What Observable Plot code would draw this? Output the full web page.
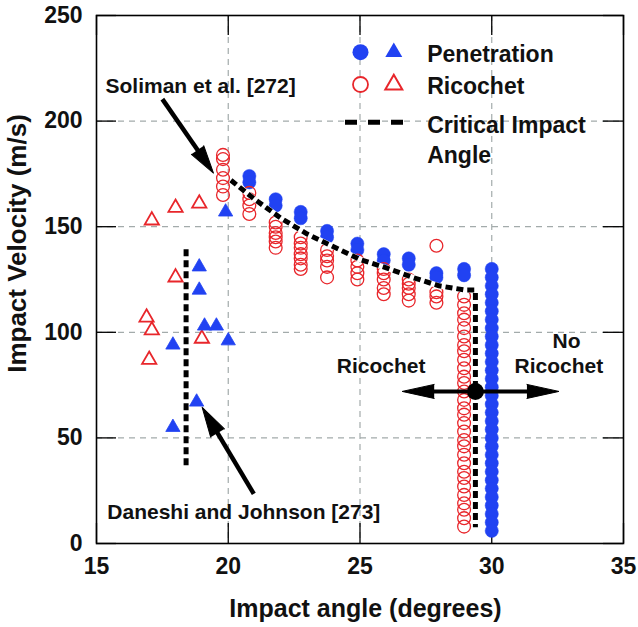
<!DOCTYPE html>
<html><head><meta charset="utf-8">
<script src="https://cdn.jsdelivr.net/npm/d3@7"></script>
<script src="https://cdn.jsdelivr.net/npm/@observablehq/plot@0.6"></script>
<style>body{margin:0;background:#fff} #chart svg{display:block}</style>
</head><body><div id="chart"></div>
<script>
// ---------------- data ----------------
const xTicks = [15, 20, 25, 30, 35];
const yTicks = [0, 50, 100, 150, 200, 250];
const xGrid = [20, 25, 30];
const yGrid = [50, 100, 150, 200];

// Soliman et al. [272] (circles): test angles and velocities per angle
const solimanAngles = [19.8, 20.8, 21.8, 22.75, 23.75, 24.9, 25.9, 26.85, 27.9, 28.95, 30.0];
const solimanPenetration = [
  [],
  [174, 171],
  [163, 160],
  [157, 154],
  [148, 145],
  [142, 139],
  [137, 134],
  [135, 132],
  [128, 126],
  [130, 127],
  [130, 126, 122, 118, 114, 110, 106, 102, 98, 94, 90, 86, 82, 78, 74, 70, 66, 62, 58, 54, 50, 46, 42, 38, 34, 30, 26, 22, 18, 14, 10, 6]
];
const solimanRicochet = [
  [184, 182, 177, 173, 169, 165],
  [166, 163, 160, 156],
  [152, 150, 147, 145, 143, 140],
  [145, 142, 140, 137, 135, 132, 130],
  [139, 136, 134, 131, 126],
  [134, 131, 128, 125],
  [130, 128, 125, 121, 118],
  [125, 123, 121, 118, 115],
  [141, 119, 117, 114],
  [117, 113, 109, 106, 102, 98, 94, 91, 87, 83, 79, 76, 72, 68, 64, 61, 57, 53, 49, 46, 42, 38, 34, 31, 27, 23, 19, 16, 12, 8],
  []
];

// Daneshi and Johnson [273] (triangles)
const daneshiPenAngle = [17.9, 17.9, 18.8, 18.9, 18.9, 19.1, 19.55, 19.9, 20.0];
const daneshiPenVel   = [94, 55, 67, 131, 120, 103, 103, 157, 96];
const daneshiRicAngle = [16.9, 17.0, 17.1, 17.1, 18.0, 18.0, 18.9, 19.0];
const daneshiRicVel   = [107, 87, 101, 153, 126, 159, 161, 97];

// Critical impact angle lines
const solimanCritAngle = [20.1, 21.0, 22.0, 23.0, 24.0, 25.0, 26.0, 27.0, 28.0, 29.0, 29.38, 29.38];
const solimanCritVel   = [172, 163, 154, 146.5, 140.5, 134.5, 130.5, 126, 122, 120, 120, 7.7];
const daneshiCritAngle = [18.4, 18.4];
const daneshiCritVel   = [37, 140];

// Annotations (data coordinates)
const arrowTail = [[17.5, 210.4], [20.97, 23.5]];
const arrowTip  = [[19.44, 175.4], [19.01, 64.5]];
const splitCenter = [29.38, 72];
const splitTips = [[26.6, 72], [32.55, 72]];
const startLabels = [
  {text: "Soliman et al. [272]", x: 15.34, y: 213.1},
  {text: "Daneshi and Johnson [273]", x: 15.41, y: 11.8}
];
const middleLabels = [
  {text: "Ricochet", x: 25.8, y: 80.5},
  {text: "No", x: 32.84, y: 92.8},
  {text: "Ricochet", x: 32.55, y: 80.5}
];
const legendItems = ["Penetration", "Ricochet", "Critical Impact\nAngle"];
const xTitle = "Impact angle (degrees)";
const yTitle = "Impact Velocity (m/s)";

// ---------------- layout ----------------
const W = 638, H = 627, ML = 96, MR = 15, MT = 15, MB = 84;
const innerW = W - ML - MR, innerH = H - MT - MB;
const BLUE = "#2142f2", RED = "#e8262b", GRID = "#a3abab";
const FONT = "Arial, 'Liberation Sans', Helvetica, sans-serif";
const sx = d3.scaleLinear([15, 35], [ML, W - MR]);
const sy = d3.scaleLinear([0, 250], [H - MB, MT]);

// build point tables
const penPts = [], ricPts = [];
solimanAngles.forEach((a, i) => {
  solimanPenetration[i].forEach(v => penPts.push({a, v}));
  solimanRicochet[i].forEach(v => ricPts.push({a, v}));
});
const dPen = daneshiPenAngle.map((a, i) => ({a, v: daneshiPenVel[i]}));
const dRic = daneshiRicAngle.map((a, i) => ({a, v: daneshiRicVel[i]}));
const solCrit = solimanCritAngle.map((a, i) => ({a, v: solimanCritVel[i]}));
const danCrit = daneshiCritAngle.map((a, i) => ({a, v: daneshiCritVel[i]}));

// arrows: shaft + filled head
function head(tail, tip, len) {
  const px1 = sx(tail[0]), py1 = sy(tail[1]), px2 = sx(tip[0]), py2 = sy(tip[1]);
  const d = Math.hypot(px2 - px1, py2 - py1);
  const ux = (px2 - px1) / d, uy = (py2 - py1) / d;
  const rot = Math.atan2(px2 - px1, -(py2 - py1)) * 180 / Math.PI;
  return {x: tip[0], y: tip[1], rotate: rot,
          bx: sx.invert(px2 - ux * (len - 4)), by: sy.invert(py2 - uy * (len - 4)),
          tx: tail[0], ty: tail[1]};
}
const headSol = head(arrowTail[0], arrowTip[0], 28);
const headDan = head(arrowTail[1], arrowTip[1], 30);
const headL = head(splitCenter, splitTips[0], 32);
const headR = head(splitCenter, splitTips[1], 32);

// legend positions (pixel layout -> data)
const legX = [sx.invert(360), sx.invert(393.3)];
const legY = [sy.invert(51.7), sy.invert(84)];
const legTextX = sx.invert(426.7);

const txt = {fontFamily: FONT, fontWeight: "bold", fill: "#111"};
const spike = (h, len, r) => Plot.vector([h], {x: "x", y: "y", rotate: "rotate", length: len, shape: "spike", r, anchor: "end", fill: "#000", stroke: "#000", strokeWidth: 1});

const chart = Plot.plot({
  width: W, height: H,
  marginLeft: ML, marginRight: MR, marginTop: MT, marginBottom: MB,
  x: {domain: [15, 35]},
  y: {domain: [0, 250]},
  style: {fontFamily: FONT, background: "#fff"},
  marks: [
    Plot.gridX(xGrid, {stroke: GRID, strokeOpacity: 1, strokeWidth: 1.2, strokeDasharray: "6,5"}),
    Plot.gridY(yGrid, {stroke: GRID, strokeOpacity: 1, strokeWidth: 1.2, strokeDasharray: "6,5"}),
    Plot.ruleX(xTicks, {x: d => d, insetTop: innerH - 20, stroke: "#000", strokeWidth: 1.3}),
    Plot.ruleX(xTicks, {x: d => d, insetBottom: innerH - 20, stroke: "#000", strokeWidth: 1.3}),
    Plot.ruleY(yTicks, {y: d => d, insetRight: innerW - 20, stroke: "#000", strokeWidth: 1.3}),
    Plot.ruleY(yTicks, {y: d => d, insetLeft: innerW - 20, stroke: "#000", strokeWidth: 1.3}),
    Plot.frame({stroke: "#000", strokeWidth: 1.6}),
    Plot.axisX(xTicks, {tickSize: 0, tickPadding: 14, label: null, fontSize: 23, fontWeight: "bold", fill: "#111"}),
    Plot.axisY(yTicks, {tickSize: 0, tickPadding: 14, label: null, fontSize: 23, fontWeight: "bold", fill: "#111"}),
    Plot.text([xTitle], {x: () => sx.invert(365), y: () => sy.invert(616), lineAnchor: "bottom", fontSize: 25, ...txt}),
    Plot.text([yTitle], {x: () => sx.invert(17), y: () => sy.invert(243), rotate: -90, lineAnchor: "middle", fontSize: 26, ...txt}),

    // data
    Plot.dot(penPts, {x: "a", y: "v", r: 6.6, fill: BLUE, stroke: BLUE, strokeWidth: 0.5}),
    Plot.dot(ricPts, {x: "a", y: "v", r: 6.4, fill: "none", stroke: RED, strokeWidth: 1.3}),
    Plot.line(solCrit, {x: "a", y: "v", stroke: "#fff", strokeWidth: 5.5, strokeLinecap: "butt", strokeLinejoin: "miter"}),
    Plot.line(solCrit, {x: "a", y: "v", stroke: "#000", strokeWidth: 5, strokeDasharray: "7,4", strokeLinecap: "butt", strokeLinejoin: "miter"}),
    Plot.line(danCrit, {x: "a", y: "v", stroke: "#000", strokeWidth: 5, strokeDasharray: "7,4", strokeLinecap: "butt"}),
    Plot.dot(dRic, {x: "a", y: "v", symbol: "triangle", r: 5.3, fill: "#fff", stroke: RED, strokeWidth: 1.8}),
    Plot.dot(dPen, {x: "a", y: "v", symbol: "triangle", r: 5.3, fill: BLUE, stroke: BLUE, strokeWidth: 0.8}),

    // annotations
    Plot.link([headSol, headDan], {x1: "tx", y1: "ty", x2: "bx", y2: "by", stroke: "#000", strokeWidth: 4.5}),
    Plot.link([0], {x1: () => headL.bx, y1: () => headL.by, x2: () => headR.bx, y2: () => headR.by, stroke: "#000", strokeWidth: 4}),
    spike(headSol, 28, 7.5),
    spike(headDan, 30, 8),
    spike(headL, 32, 7),
    spike(headR, 32, 7),
    Plot.dot([splitCenter], {x: d => d[0], y: d => d[1], r: 8.5, fill: "#000"}),
    Plot.text(startLabels, {x: "x", y: "y", text: "text", textAnchor: "start", lineAnchor: "bottom", fontSize: 21, ...txt}),
    Plot.text(middleLabels, {x: "x", y: "y", text: "text", textAnchor: "middle", lineAnchor: "bottom", fontSize: 21, ...txt}),

    // legend
    Plot.dot([0], {x: () => legX[0], y: () => legY[0], r: 8, fill: BLUE}),
    Plot.dot([0], {x: () => legX[1], y: () => legY[0], symbol: "triangle", r: 6.3, fill: BLUE}),
    Plot.dot([0], {x: () => legX[0], y: () => legY[1], r: 7.5, fill: "#fff", stroke: RED, strokeWidth: 1.8}),
    Plot.dot([0], {x: () => legX[1], y: () => legY[1], symbol: "triangle", r: 6.3, fill: "#fff", stroke: RED, strokeWidth: 2}),
    Plot.ruleY([0], {y: () => sy.invert(121.7), x1: () => sx.invert(345), x2: () => sx.invert(405), stroke: "#000", strokeWidth: 5, strokeDasharray: "12,11"}),
    Plot.text([legendItems[0]], {x: () => legTextX, y: () => legY[0], dy: 2, textAnchor: "start", lineAnchor: "middle", fontSize: 23, ...txt}),
    Plot.text([legendItems[1]], {x: () => legTextX, y: () => legY[1], dy: 2, textAnchor: "start", lineAnchor: "middle", fontSize: 23, ...txt}),
    Plot.text([legendItems[2]], {x: () => legTextX, y: () => sy.invert(111.7), textAnchor: "start", lineAnchor: "top", lineHeight: 1.3, fontSize: 23, ...txt})
  ]
});
document.getElementById("chart").appendChild(chart);
</script>
</body></html>
